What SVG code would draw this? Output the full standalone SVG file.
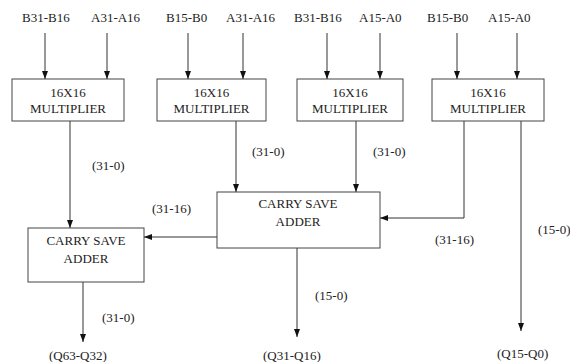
<svg xmlns="http://www.w3.org/2000/svg" width="570" height="362" viewBox="0 0 570 362">
<style>
text{font-size:13px;fill:#222}
.c{text-anchor:middle}
rect{fill:#fff;stroke:#444;stroke-width:1}
.w{fill:none;stroke:#333;stroke-width:1}
</style>
<defs>
<marker id="ah" viewBox="0 0 8 8" refX="8" refY="4" markerWidth="8" markerHeight="8" markerUnits="userSpaceOnUse" orient="auto">
<path d="M0,1 L8,4 L0,7 Z" fill="#111"/>
</marker>
</defs>
<rect width="570" height="362" fill="#fff" style="stroke:none"/>
<g font-family="Liberation Serif, DejaVu Serif, serif">
<g id="labels">
<text x="22" y="22">B31-B16</text>
<text x="91" y="22">A31-A16</text>
<text x="166" y="22">B15-B0</text>
<text x="226" y="22">A31-A16</text>
<text x="294" y="22">B31-B16</text>
<text x="359" y="22">A15-A0</text>
<text x="427" y="22">B15-B0</text>
<text x="488" y="22">A15-A0</text>
<text x="92" y="170">(31-0)</text>
<text x="252" y="156">(31-0)</text>
<text x="373" y="156">(31-0)</text>
<text x="152" y="213">(31-16)</text>
<text x="435" y="244">(31-16)</text>
<text x="538" y="234">(15-0)</text>
<text x="102" y="322">(31-0)</text>
<text x="315" y="300">(15-0)</text>
<text x="49" y="360">(Q63-Q32)</text>
<text x="263" y="360">(Q31-Q16)</text>
<text x="497" y="358">(Q15-Q0)</text>
</g>
<g id="connectors">
<path class="w" d="M45,33 V79" marker-end="url(#ah)"/>
<path class="w" d="M107,33 V79" marker-end="url(#ah)"/>
<path class="w" d="M188,33 V79" marker-end="url(#ah)"/>
<path class="w" d="M243,33 V79" marker-end="url(#ah)"/>
<path class="w" d="M327,33 V79" marker-end="url(#ah)"/>
<path class="w" d="M380,33 V79" marker-end="url(#ah)"/>
<path class="w" d="M457,33 V79" marker-end="url(#ah)"/>
<path class="w" d="M517,33 V79" marker-end="url(#ah)"/>
<path class="w" d="M70,121 V228" marker-end="url(#ah)"/>
<path class="w" d="M236,121 V192" marker-end="url(#ah)"/>
<path class="w" d="M356,121 V192" marker-end="url(#ah)"/>
<path class="w" d="M464,121 V218 H380" marker-end="url(#ah)"/>
<path class="w" d="M521,121 V331" marker-end="url(#ah)"/>
<path class="w" d="M217,237 H144" marker-end="url(#ah)"/>
<path class="w" d="M83,282 V342" marker-end="url(#ah)"/>
<path class="w" d="M297,248 V337" marker-end="url(#ah)"/>
</g>
<g id="mult1"><rect x="12" y="79" width="112" height="42"/><text class="c" x="68" y="97">16X16</text><text class="c" x="68" y="113">MULTIPLIER</text></g>
<g id="mult2"><rect x="157" y="79" width="109" height="42"/><text class="c" x="211.5" y="97">16X16</text><text class="c" x="211.5" y="113">MULTIPLIER</text></g>
<g id="mult3"><rect x="297" y="79" width="106" height="42"/><text class="c" x="350" y="97">16X16</text><text class="c" x="350" y="113">MULTIPLIER</text></g>
<g id="mult4"><rect x="432" y="79" width="112" height="42"/><text class="c" x="488" y="97">16X16</text><text class="c" x="488" y="113">MULTIPLIER</text></g>
<g id="csa2"><rect x="217" y="192" width="163" height="56"/><text class="c" x="298" y="208">CARRY SAVE</text><text class="c" x="298" y="226">ADDER</text></g>
<g id="csa1"><rect x="28" y="228" width="116" height="54"/><text class="c" x="86" y="245">CARRY SAVE</text><text class="c" x="86" y="263">ADDER</text></g>
</g>
</svg>
